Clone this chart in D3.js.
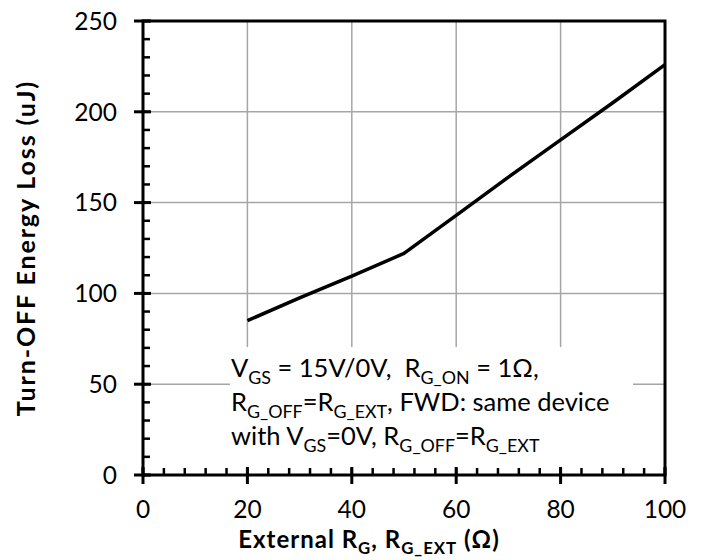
<!DOCTYPE html>
<html><head><meta charset="utf-8">
<script src="https://cdn.jsdelivr.net/npm/d3@7"></script>
<style>body{margin:0;background:#fff}svg{display:block}text{white-space:pre}</style>
</head><body>
<svg id="c" width="707" height="560"></svg>
<script>
const rgValues = [20, 30, 40, 50, 60, 70, 80, 90, 100];
const eoffValues = [85, 97.5, 109.5, 122, 143, 164, 184.5, 205, 226];
const xTicks = [0, 20, 40, 60, 80, 100];
const yTicks = [0, 50, 100, 150, 200, 250];
const xMinor = d3.range(0, 101, 4);
const yMinor = d3.range(0, 251, 10);
const yTitle = "Turn-OFF Energy Loss (uJ)";
const xTitle = [["External R",0],["G",1],[", R",0],["G_EXT",1],[" (Ω)",0]];
const note = [
  [["V",0],["GS",1],[" = 15V/0V,  R",0],["G_ON",1],[" = 1Ω,",0]],
  [["R",0],["G_OFF",1],["=R",0],["G_EXT",1],[", FWD: same device",0]],
  [["with V",0],["GS",1],["=0V, R",0],["G_OFF",1],["=R",0],["G_EXT",1]]
];

const svg = d3.select("#c");
const L = 143, R = 665, T = 21, B = 475;
const x = d3.scaleLinear().domain([0, 100]).range([L, R]);
const y = d3.scaleLinear().domain([0, 250]).range([B, T]);
const font = "Lato, 'Open Sans', sans-serif";

// grid
svg.append("g").selectAll("line").data(xTicks.filter(d => d > 0 && d < 100)).join("line")
  .attr("x1", d => x(d)).attr("x2", d => x(d)).attr("y1", T).attr("y2", B)
  .attr("stroke", "#a6a6a6").attr("stroke-width", 1.5);
svg.append("g").selectAll("line").data(yTicks.filter(d => d > 0 && d < 250)).join("line")
  .attr("x1", L).attr("x2", R).attr("y1", d => y(d)).attr("y2", d => y(d))
  .attr("stroke", "#a6a6a6").attr("stroke-width", 1.5);

// data line
svg.append("path").datum(rgValues.map((d, i) => [d, eoffValues[i]]))
  .attr("d", d3.line().x(d => x(d[0])).y(d => y(d[1])))
  .attr("fill", "none").attr("stroke", "#000").attr("stroke-width", 3.5)
  .attr("stroke-linejoin", "round");

// annotation box
svg.append("rect").attr("x", 230).attr("y", 347).attr("width", 403).attr("height", 126).attr("fill", "#fff");

function rich(sel, segs, fs, ratio) {
  segs.forEach(([t, s], i) => {
    const prevSub = i > 0 && segs[i-1][1];
    let dy = 0;
    if (s && !prevSub) dy = fs * 0.27;
    if (!s && prevSub) dy = -fs * 0.27;
    sel.append("tspan").attr("dy", dy).attr("font-size", s ? fs * ratio : fs).text(t);
  });
}
const noteFs = 25.5;
note.forEach((ln, i) => {
  const t = svg.append("text").attr("x", 231).attr("y", 377 + i * 34)
    .attr("font-family", font).attr("font-size", noteFs).attr("fill", "#000");
  rich(t, ln, noteFs, 0.7);
});

// frame
svg.append("rect").attr("x", L).attr("y", T).attr("width", R - L).attr("height", B - T)
  .attr("fill", "none").attr("stroke", "#000").attr("stroke-width", 3);

// minor ticks
svg.append("g").selectAll("line").data(xMinor).join("line")
  .attr("x1", d => x(d)).attr("x2", d => x(d)).attr("y1", B).attr("y2", B - 7)
  .attr("stroke", "#000").attr("stroke-width", 2.5);
svg.append("g").selectAll("line").data(yMinor).join("line")
  .attr("x1", L).attr("x2", L + 7).attr("y1", d => y(d)).attr("y2", d => y(d))
  .attr("stroke", "#000").attr("stroke-width", 2.5);
// major ticks
svg.append("g").selectAll("line").data(xTicks).join("line")
  .attr("x1", d => x(d)).attr("x2", d => x(d)).attr("y1", B + 9).attr("y2", B - 8)
  .attr("stroke", "#000").attr("stroke-width", 3);
svg.append("g").selectAll("line").data(yTicks).join("line")
  .attr("x1", L - 9).attr("x2", L + 8).attr("y1", d => y(d)).attr("y2", d => y(d))
  .attr("stroke", "#000").attr("stroke-width", 3);

// tick labels
svg.append("g").selectAll("text").data(xTicks).join("text")
  .attr("x", d => x(d)).attr("y", 518).attr("text-anchor", "middle")
  .attr("font-family", font).attr("font-size", 24.5).text(d => d);
svg.append("g").selectAll("text").data(yTicks).join("text")
  .attr("x", 117).attr("y", d => y(d)).attr("dy", "0.36em").attr("text-anchor", "end")
  .attr("font-family", font).attr("font-size", 24.5).text(d => d);

// titles
const xt = svg.append("text").attr("x", (L + R) / 2 - 35).attr("y", 548).attr("text-anchor", "middle")
  .attr("font-family", font).attr("font-size", 24).attr("font-weight", "bold")
  .attr("letter-spacing", 1);
rich(xt, xTitle, 24, 0.7);
svg.append("text").attr("transform", `translate(35,${(T + B) / 2}) rotate(-90)`)
  .attr("text-anchor", "middle").attr("font-family", font).attr("font-size", 25)
  .attr("font-weight", "bold").attr("letter-spacing", 1.9).text(yTitle);
</script>
</body></html>
